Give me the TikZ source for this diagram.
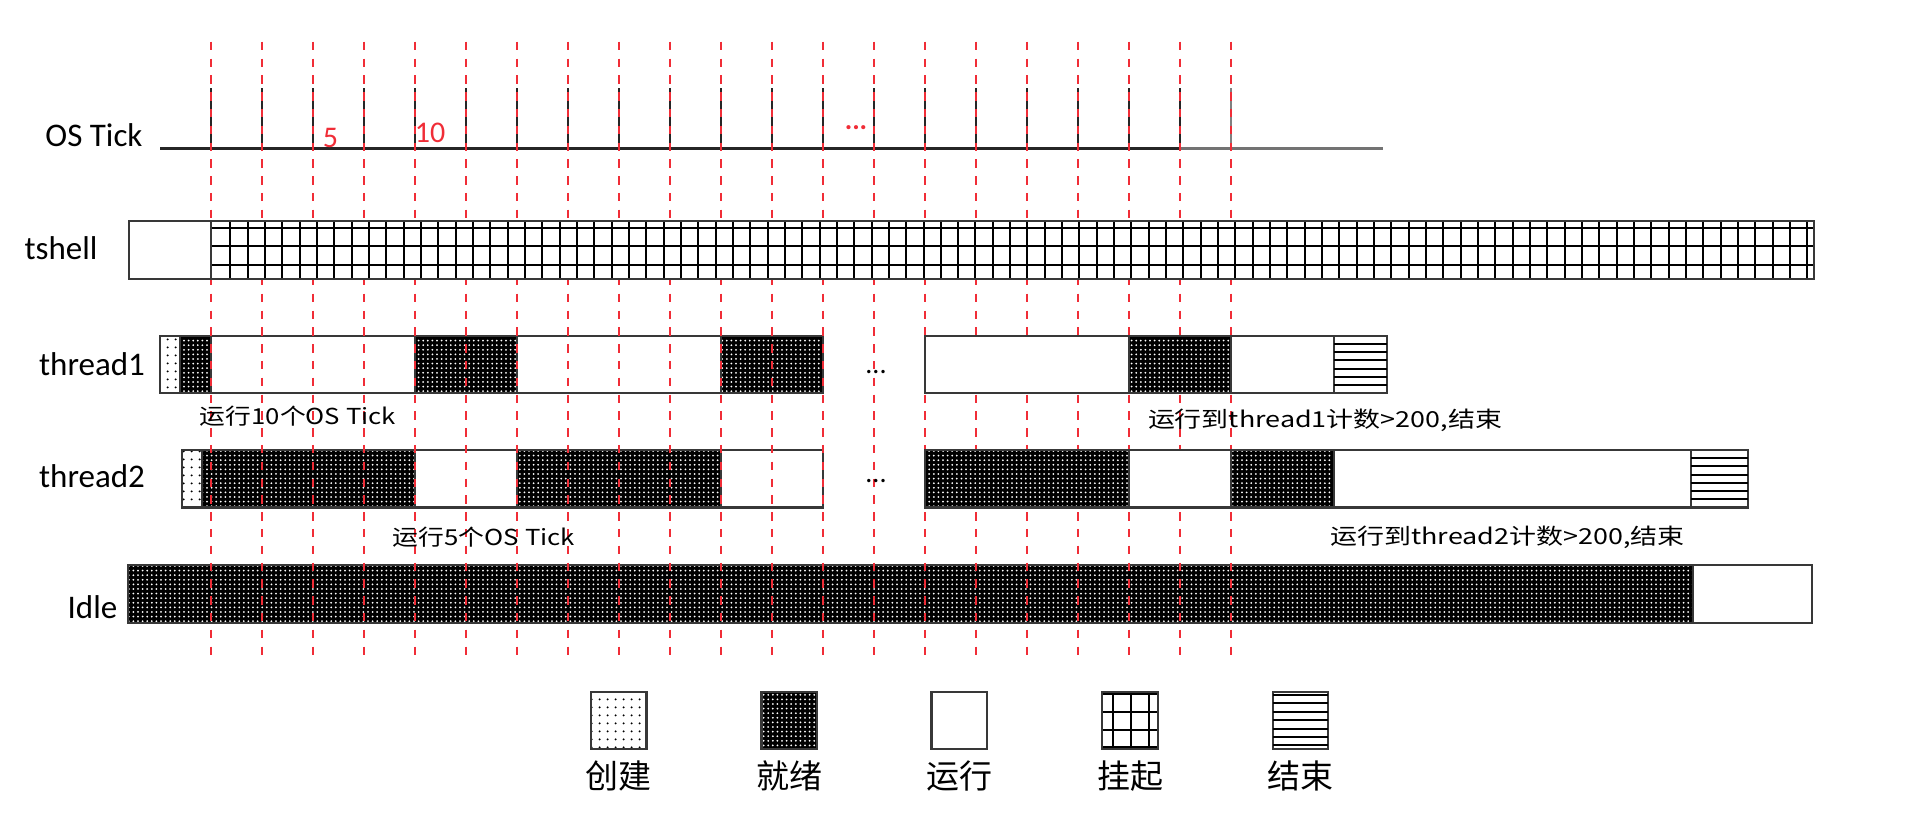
\documentclass[tikz,border=0pt]{standalone}
\usepackage{fontspec}
\setmainfont{Carlito}
\newfontfamily\cjk{Noto Sans CJK SC}
\usetikzlibrary{patterns.meta}
\definecolor{tickred}{RGB}{240,45,55}
\newcommand{\annot}[2]{\resizebox{#1}{\height}{#2}}
\begin{document}
\begin{tikzpicture}[x=0.5pt,y=-0.5pt,
  seg/.style={draw=black!78, line width=1.1pt},
  runseg/.style={seg, fill=white},
  readyseg/.style={seg, preaction={fill=black}, preaction={pattern={Dots[distance=2.3pt,radius=0.5pt]}, pattern color=white}},
  createseg/.style={seg, preaction={fill=white}, preaction={pattern={Dots[distance=4pt,radius=0.6pt]}, pattern color=black}},
  gridln/.style={line width=1pt, black},
  redline/.style={tickred, line width=0.7pt, dash pattern=on 4.2pt off 4.2pt},
  tickln/.style={line width=1pt, black!85},
  rowlbl/.style={inner sep=0pt, font=\fontsize{16.5}{19}\selectfont},
  redlbl/.style={inner sep=0pt, text=tickred, font=\fontsize{15}{18}\selectfont},
  dotlbl/.style={inner sep=0pt, font=\fontsize{14}{16}\selectfont},
  annlbl/.style={inner sep=0pt, font=\cjk\fontsize{11}{13}\selectfont},
  leglbl/.style={inner sep=0pt, font=\cjk\fontsize{16.5}{19}\selectfont}
]
\useasboundingbox (0,0) rectangle (1918,819);

% ---- OS tick axis ----
\draw[line width=1.3pt, black!85] (160,148.3) -- (1180,148.3);
\draw[line width=1.3pt, black!55] (1180,148.3) -- (1383,148.3);
\foreach \i in {0,...,19} \draw[tickln] ({211+51*\i},88.3) -- ({211+51*\i},148.3);
\draw[line width=1pt, black!50] (1231,88.3) -- (1231,148.3);

% ---- thread1 (left part) ----
\draw[createseg] (160,336) rectangle (179.6,393);
\draw[readyseg] (179.6,336) rectangle (211,393);
\draw[runseg] (211,336) rectangle (415,393);
\draw[readyseg] (415,336) rectangle (517,393);
\draw[runseg] (517,336) rectangle (721,393);
\draw[readyseg] (721,336) rectangle (823,393);

% ---- thread2 (left part) ----
\draw[createseg] (182,450) rectangle (201.7,507.5);
\draw[readyseg] (201.7,450) rectangle (415,507.5);
\draw[runseg] (415,450) rectangle (517,507.5);
\draw[readyseg] (517,450) rectangle (721,507.5);
\draw[runseg] (721,450) rectangle (823,507.5);

% ---- Idle ----
\draw[readyseg] (128,565) rectangle (1693,623);
\draw[runseg] (1693,565) rectangle (1812,623);

% ---- red dashed tick lines ----
\foreach \i in {0,...,20} \draw[redline] ({211+51*\i},41.7) -- ({211+51*\i},655);

% ---- tshell ----
\draw[runseg] (128.6,221) rectangle (211,279);
\fill[white] (211,221) rectangle (1814,279);
\foreach \k in {0,...,91} \draw[gridln] ({230.3+17.33*\k},221) -- ({230.3+17.33*\k},279);
\foreach \yy in {227.5,246,264.5} \draw[gridln] (211,\yy) -- (1814,\yy);
\draw[seg] (211,221) rectangle (1814,279);

% ---- thread1 (right part) ----
\draw[runseg] (925,336) rectangle (1129,393);
\draw[readyseg] (1129,336) rectangle (1231,393);
\draw[runseg] (1231,336) rectangle (1334,393);
\draw[runseg] (1334,336) rectangle (1387,393);
\foreach \k in {1,...,6} \draw[gridln] (1334,{336+8.14*\k}) -- (1387,{336+8.14*\k});

% ---- thread2 (right part) ----
\draw[readyseg] (925,450) rectangle (1129,507.5);
\draw[runseg] (1129,450) rectangle (1231,507.5);
\draw[readyseg] (1231,450) rectangle (1334,507.5);
\draw[runseg] (1334,450) rectangle (1691,507.5);
\draw[runseg] (1691,450) rectangle (1748,507.5);
\foreach \k in {1,...,6} \draw[gridln] (1691,{450+8.2*\k}) -- (1748,{450+8.2*\k});

% ---- legend ----
\draw[createseg] (591,691.7) rectangle (646.5,749.3);
\draw[readyseg] (761.5,691.7) rectangle (817,749.3);
\draw[runseg] (931.5,691.7) rectangle (987,749.3);
\draw[runseg] (1102,691.7) rectangle (1158,749.3);
\foreach \xx in {1113.3,1131,1149} \draw[gridln] (\xx,691.7) -- (\xx,749.3);
\foreach \yy in {694,711.7,730,747.3} \draw[gridln] (1102,\yy) -- (1158,\yy);
\draw[seg] (1102,691.7) rectangle (1158,749.3);
\draw[runseg] (1273,691.7) rectangle (1328,749.3);
\foreach \k in {0,...,6} \draw[gridln] (1273,{695+8.4*\k}) -- (1328,{695+8.4*\k});

% ---- texts ----
\node[rowlbl] (lost) at (94,135) {OS Tick};
\node[rowlbl] (lsh) at (61,248) {tshell};
\node[rowlbl] (lt1) at (92,364) {thread1};
\node[rowlbl] (lt2) at (92,476) {thread2};
\node[rowlbl] (lidle) at (92.5,607) {Idle};
\node[redlbl] (l5) at (330.5,137.5) {5};
\node[redlbl] (l10) at (430,133) {10};
\node[redlbl, font=\bfseries\fontsize{14}{16}\selectfont] (ldots) at (856,128) {...};
\node[dotlbl] (d1) at (876,372) {...};
\node[dotlbl] (d2) at (876,481) {...};

\node[annlbl] (a1) at (298,416) {\annot{98pt}{运行10个OS Tick}};
\node[annlbl] (a2) at (1325,420) {\annot{177pt}{运行到thread1计数>200,结束}};
\node[annlbl] (a3) at (484,537) {\annot{91pt}{运行5个OS Tick}};
\node[annlbl] (a4) at (1507.5,537) {\annot{177pt}{运行到thread2计数>200,结束}};

\node[leglbl] (g1) at (618.7,776) {创建};
\node[leglbl] (g2) at (789.2,776) {就绪};
\node[leglbl] (g3) at (959.2,776) {运行};
\node[leglbl] (g4) at (1130,776) {挂起};
\node[leglbl] (g5) at (1300.5,776) {结束};
\end{tikzpicture}
\end{document}
